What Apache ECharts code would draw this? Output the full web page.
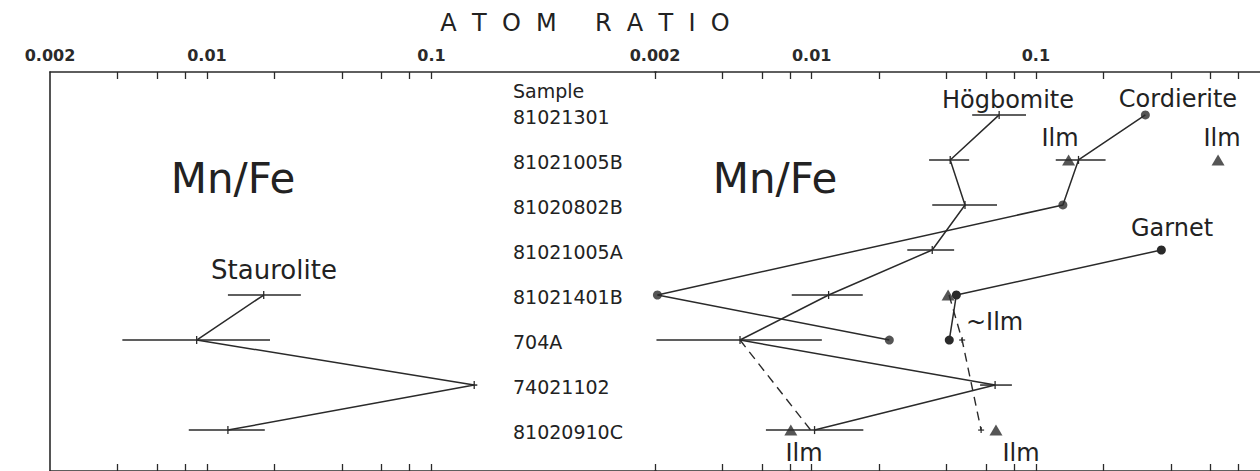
<!DOCTYPE html>
<html>
<head>
<meta charset="utf-8">
<script src="https://cdn.jsdelivr.net/npm/echarts@6/dist/echarts.min.js"></script>
<style>
html,body{margin:0;padding:0;background:#ffffff;}
#chart{width:1260px;height:471px;}
</style>
</head>
<body>
<div id="chart"></div>
<script>
// ---------------- data ----------------
const samples = ['81021301','81021005B','81020802B','81021005A','81021401B','704A','74021102','81020910C'];

const tickValuesLeft  = [0.004, 0.006, 0.008, 0.01, 0.02, 0.04, 0.06, 0.08, 0.1];
const tickValuesRight = [0.002, 0.004, 0.006, 0.008, 0.01, 0.02, 0.04, 0.06, 0.08, 0.1, 0.2, 0.4, 0.6, 0.8];
const labelValues = [0.002, 0.01, 0.1];
const labelTexts  = ['0.002', '0.01', '0.1'];

// Staurolite Mn/Fe (left panel)
const stauroliteRows = [4, 5, 6, 7];
const stauroliteMn   = [0.0179, 0.0090, 0.155, 0.0124];
const stauroliteLow  = [0.0124, 0.0042, 0.151, 0.0083];
const stauroliteHigh = [0.0262, 0.0191, 0.160, 0.0181];

// Högbomite Mn/Fe (right panel)
const hogbomiteRows = [0, 1, 2, 3, 4, 5, 6, 7];
const hogbomiteMn   = [0.0686, 0.0415, 0.0483, 0.0345, 0.0119, 0.00479, 0.0658, 0.0103];
const hogbomiteLow  = [0.0520, 0.0334, 0.0345, 0.0267, 0.00815, 0.00203, 0.0564, 0.00625];
const hogbomiteHigh = [0.0904, 0.0504, 0.0671, 0.0432, 0.0169, 0.0111, 0.0782, 0.0170];

// Cordierite Mn/Fe
const cordieriteRows = [0, 1, 2, 4, 5];
const cordieriteMn   = [0.308, 0.155, 0.132, 0.00205, 0.0222];
const cordieriteDotRows = [0, 2, 4, 5];
const cordieriteDotMn   = [0.308, 0.132, 0.00205, 0.0222];
const cordieriteErrRows = [1];
const cordieriteErrMn   = [0.155];
const cordieriteErrLow  = [0.1227];
const cordieriteErrHigh = [0.2047];

// Garnet Mn/Fe
const garnetRows = [3, 4, 5];
const garnetMn   = [0.363, 0.0442, 0.0411];

// Ilmenite (triangles)
const ilmRows = [1, 1, 4, 7, 7];
const ilmMn   = [0.140, 0.650, 0.0406, 0.00807, 0.0664];

// dashed ilmenite links
const ilmLinkARows = [5, 7];
const ilmLinkAMn   = [0.00479, 0.0099];
const ilmLinkBRows = [4, 5, 7];
const ilmLinkBMn   = [0.0410, 0.0469, 0.0570];
const ilmCrossRows = [5, 7];
const ilmCrossMn   = [0.0469, 0.0570];

// ---------------- style ----------------
const INK = '#2a2a2a';
const FONT = '"DejaVu Sans", "Liberation Sans", sans-serif';
const ROW_MIN = -0.953, ROW_MAX = 7.909;
const NB = '\u00a0';

function errorBar(params, api) {
  const y = api.value(3);
  const c = api.coord([api.value(0), y]);
  const l = api.coord([api.value(1), y]);
  const h = api.coord([api.value(2), y]);
  return {
    type: 'group',
    children: [
      {type: 'line', shape: {x1: l[0], y1: l[1], x2: h[0], y2: h[1]}, style: {stroke: INK, lineWidth: 1.5}},
      {type: 'line', shape: {x1: c[0], y1: c[1] - 4, x2: c[0], y2: c[1] + 4}, style: {stroke: INK, lineWidth: 1.3}}
    ]
  };
}
function cross(params, api) {
  const c = api.coord([api.value(0), api.value(1)]);
  return {
    type: 'group',
    children: [
      {type: 'line', shape: {x1: c[0] - 3, y1: c[1], x2: c[0] + 3, y2: c[1]}, style: {stroke: INK, lineWidth: 1.2}},
      {type: 'line', shape: {x1: c[0], y1: c[1] - 3, x2: c[0], y2: c[1] + 3}, style: {stroke: INK, lineWidth: 1.2}}
    ]
  };
}
function labelFmt(v) {
  let best = 0, bd = Infinity;
  labelValues.forEach((lv, i) => { const d = Math.abs(Math.log10(v) - Math.log10(lv)); if (d < bd) { bd = d; best = i; } });
  return labelTexts[best];
}
function xAxisDef(grid, pos, ticks, withLabels) {
  return {
    type: 'log', logBase: 10, gridIndex: grid, position: pos, min: 0.002, max: 1,
    axisLine: {show: true, onZero: false, lineStyle: {color: INK, width: 1.6}},
    axisTick: {show: true, inside: true, length: 7, customValues: ticks, lineStyle: {color: INK, width: 1.3}},
    axisLabel: withLabels ? {show: true, customValues: labelValues, formatter: labelFmt, margin: 9,
      fontSize: 16, fontWeight: 'bold', fontFamily: FONT, color: '#2a2a2a'} : {show: false},
    splitLine: {show: false}, minorTick: {show: false}, minorSplitLine: {show: false}
  };
}
function yAxisDef(grid, showLine) {
  return {
    type: 'value', gridIndex: grid, inverse: true, min: ROW_MIN, max: ROW_MAX,
    axisLine: {show: showLine, onZero: false, lineStyle: {color: INK, width: 1.6}},
    axisTick: {show: false}, axisLabel: {show: false}, splitLine: {show: false}
  };
}
const pairs = (vals, rows) => vals.map((v, i) => [v, rows[i]]);
const bars = (c, lo, hi, rows) => c.map((v, i) => [v, lo[i], hi[i], rows[i]]);

const chart = echarts.init(document.getElementById('chart'), null, {renderer: 'svg'});
const option = {
  animation: false,
  backgroundColor: '#ffffff',
  grid: [
    {left: 50, top: 72, width: 606, height: 400},
    {left: 655, top: 72, width: 606, height: 400}
  ],
  xAxis: [
    xAxisDef(0, 'top', tickValuesLeft, true),
    xAxisDef(0, 'bottom', tickValuesLeft, false),
    xAxisDef(1, 'top', tickValuesRight, true),
    xAxisDef(1, 'bottom', tickValuesRight, false)
  ],
  yAxis: [yAxisDef(0, true), yAxisDef(1, false)],
  series: [
    // Staurolite
    {type: 'line', xAxisIndex: 0, yAxisIndex: 0, data: pairs(stauroliteMn, stauroliteRows),
      symbol: 'none', lineStyle: {color: INK, width: 1.5}, silent: true},
    {type: 'custom', xAxisIndex: 0, yAxisIndex: 0, renderItem: errorBar, encode: {x: [0, 1, 2], y: 3},
      data: bars(stauroliteMn, stauroliteLow, stauroliteHigh, stauroliteRows), silent: true},
    // Högbomite
    {type: 'line', xAxisIndex: 2, yAxisIndex: 1, data: pairs(hogbomiteMn, hogbomiteRows),
      symbol: 'none', lineStyle: {color: INK, width: 1.5}, silent: true},
    {type: 'custom', xAxisIndex: 2, yAxisIndex: 1, renderItem: errorBar, encode: {x: [0, 1, 2], y: 3},
      data: bars(hogbomiteMn, hogbomiteLow, hogbomiteHigh, hogbomiteRows), silent: true},
    // Cordierite
    {type: 'line', xAxisIndex: 2, yAxisIndex: 1, data: pairs(cordieriteMn, cordieriteRows),
      symbol: 'none', lineStyle: {color: INK, width: 1.5}, silent: true},
    {type: 'custom', xAxisIndex: 2, yAxisIndex: 1, renderItem: errorBar, encode: {x: [0, 1, 2], y: 3},
      data: bars(cordieriteErrMn, cordieriteErrLow, cordieriteErrHigh, cordieriteErrRows), silent: true},
    {type: 'scatter', xAxisIndex: 2, yAxisIndex: 1, data: pairs(cordieriteDotMn, cordieriteDotRows),
      symbol: 'circle', symbolSize: 9, itemStyle: {color: INK}, silent: true},
    // Garnet
    {type: 'line', xAxisIndex: 2, yAxisIndex: 1, data: pairs(garnetMn, garnetRows),
      symbol: 'circle', symbolSize: 9, showAllSymbol: true, itemStyle: {color: INK},
      lineStyle: {color: INK, width: 1.5}, silent: true},
    // Ilmenite dashed links
    {type: 'line', xAxisIndex: 2, yAxisIndex: 1, data: pairs(ilmLinkAMn, ilmLinkARows),
      symbol: 'none', lineStyle: {color: INK, width: 1.4, type: [9, 6]}, silent: true},
    {type: 'line', xAxisIndex: 2, yAxisIndex: 1, data: pairs(ilmLinkBMn, ilmLinkBRows),
      symbol: 'none', lineStyle: {color: INK, width: 1.4, type: [9, 6]}, silent: true},
    {type: 'custom', xAxisIndex: 2, yAxisIndex: 1, renderItem: cross, encode: {x: 0, y: 1},
      data: pairs(ilmCrossMn, ilmCrossRows), silent: true},
    // Ilmenite triangles
    {type: 'scatter', xAxisIndex: 2, yAxisIndex: 1, data: pairs(ilmMn, ilmRows),
      symbol: 'triangle', symbolSize: [13, 11], itemStyle: {color: INK}, silent: true}
  ]
};
chart.setOption(option);

// ---------------- text ----------------
const txt = (text, x, y, size, align) => ({
  type: 'text', silent: true,
  style: {text: text, x: x, y: y, fill: '#222', font: size + 'px ' + FONT,
    align: align || 'center', verticalAlign: 'middle', textAlign: align || 'center', textVerticalAlign: 'middle'}
});
const spaced = (w, gap) => w.split('').join(gap);
const title = spaced('ATOM', NB + NB) + NB + NB + NB + NB + NB + spaced('RATIO', NB + NB);
const graphics = [
  txt(title, 585, 23, 24),
  txt('Sample', 513, 91, 19, 'left'),
  txt('Mn/Fe', 233, 178, 42),
  txt('Mn/Fe', 775, 178, 42),
  txt('Staurolite', 274, 270, 26),
  txt('Högbomite', 1008, 100, 24),
  txt('Cordierite', 1178, 99, 24),
  txt('Ilm', 1060, 138, 24),
  txt('Ilm', 1222, 138, 24),
  txt('Garnet', 1172, 228, 24),
  txt('~Ilm', 966, 322, 24, 'left'),
  txt('Ilm', 804, 453, 24),
  txt('Ilm', 1021, 453, 24)
];
samples.forEach((s, i) => {
  const y = chart.convertToPixel({yAxisIndex: 0}, i);
  graphics.push(txt(s, 513, y + 2, 19, 'left'));
});
chart.setOption({graphic: graphics});
</script>
</body>
</html>
